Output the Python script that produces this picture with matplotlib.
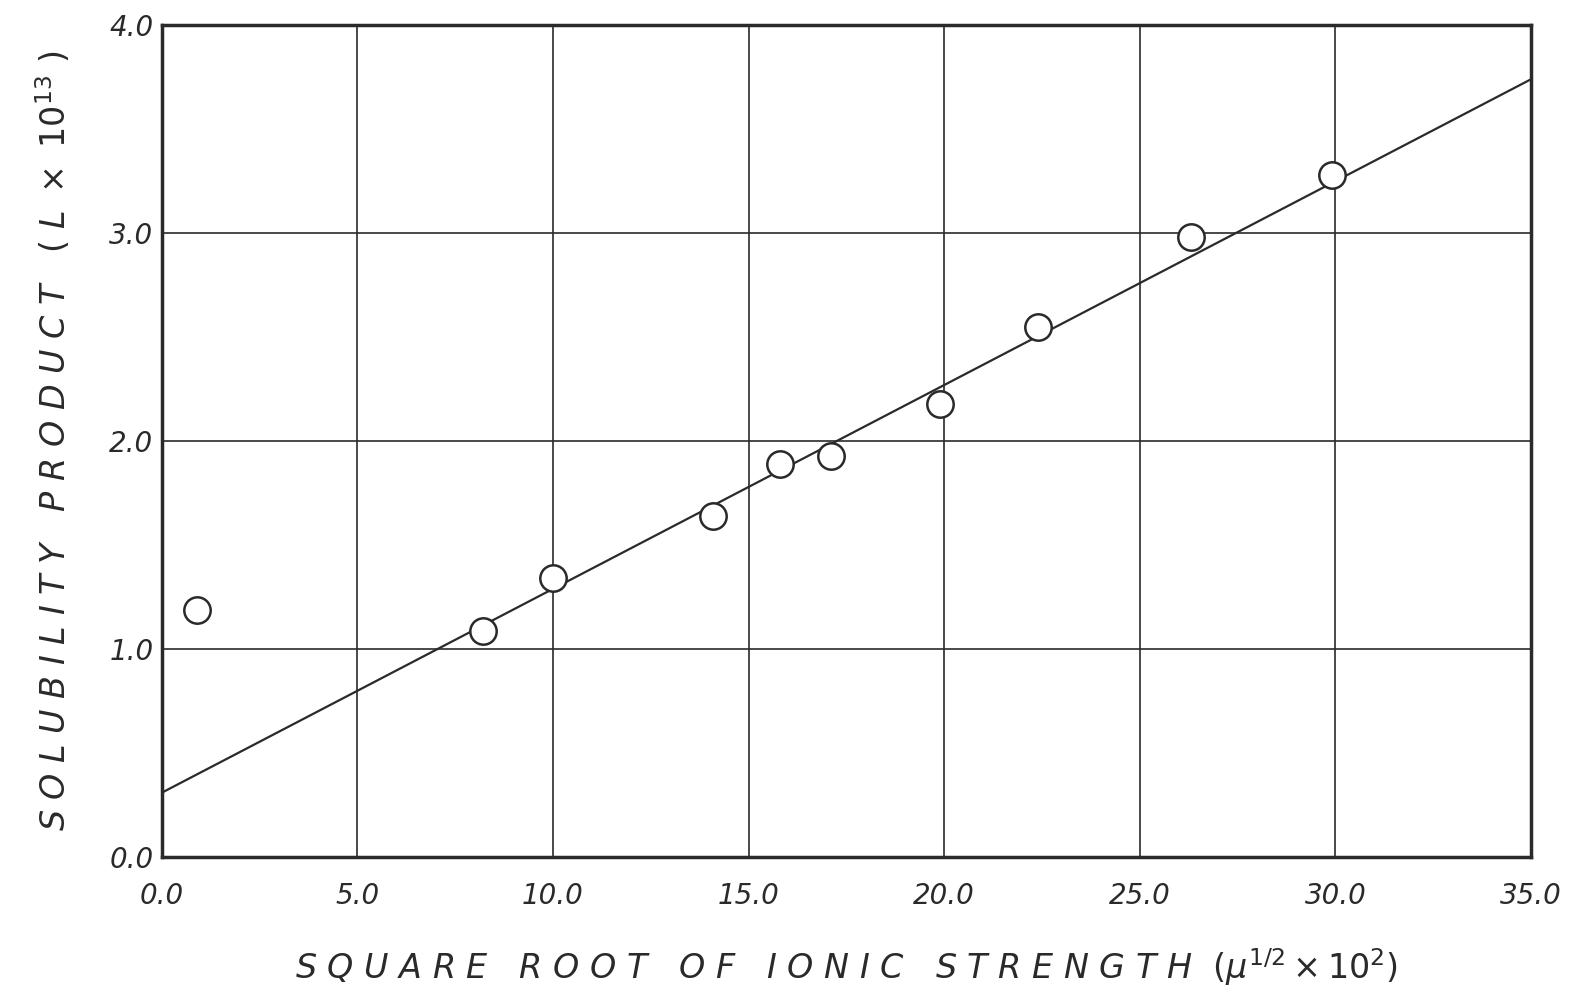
import matplotlib.pyplot as plt
import numpy as np

# data
sqrt_ionic = [0.9, 8.2, 10.0, 14.1, 15.8, 17.1, 19.9, 22.4, 26.3, 29.9]
solubility = [1.19, 1.09, 1.34, 1.64, 1.89, 1.93, 2.18, 2.55, 2.98, 3.28]
# fitted straight line (end points)
line_x = [0.0, 35.0]
line_y = [0.31, 3.74]

x_ticks = [0, 5, 10, 15, 20, 25, 30, 35]
y_ticks = [0, 1, 2, 3, 4]

ink = '#2a2a2a'
plt.rcParams['font.family'] = 'DejaVu Sans'

fig = plt.figure(figsize=(15.85, 10.05), dpi=100)
ax = fig.add_axes([0.102, 0.147, 0.864, 0.828])

ax.set_xlim(0, 35)
ax.set_ylim(0, 4)
ax.set_xticks(x_ticks)
ax.set_yticks(y_ticks)
ax.set_xticklabels(['%.1f' % v for v in x_ticks])
ax.set_yticklabels(['%.1f' % v for v in y_ticks])
ax.tick_params(axis='x', length=0, labelsize=20, colors=ink, pad=18)
ax.tick_params(axis='y', length=0, labelsize=20, colors=ink, pad=6)
for lab in ax.get_xticklabels() + ax.get_yticklabels():
    lab.set_fontstyle('italic')
    lab.set_fontweight('light')

ax.grid(True, color=ink, linewidth=1.2)
ax.set_axisbelow(True)
for s in ax.spines.values():
    s.set_linewidth(2.5)
    s.set_color(ink)

ax.plot(line_x, line_y, color=ink, linewidth=1.6, zorder=3)
ax.plot(sqrt_ionic, solubility, 'o', markersize=19, markerfacecolor='white',
        markeredgecolor=ink, markeredgewidth=1.8, zorder=4)

ax.set_xlabel(r'S Q U A R E   R O O T   O F   I O N I C   S T R E N G T H  $(\mu^{1/2}\times 10^{2})$',
              fontsize=24, fontstyle='italic', color=ink, labelpad=26)
ax.set_ylabel(r'S O L U B I L I T Y   P R O D U C T   $(\ L\ \times\ 10^{13}\ )$',
              fontsize=24, fontstyle='italic', color=ink, labelpad=26)

plt.savefig('out.png', dpi=100)
